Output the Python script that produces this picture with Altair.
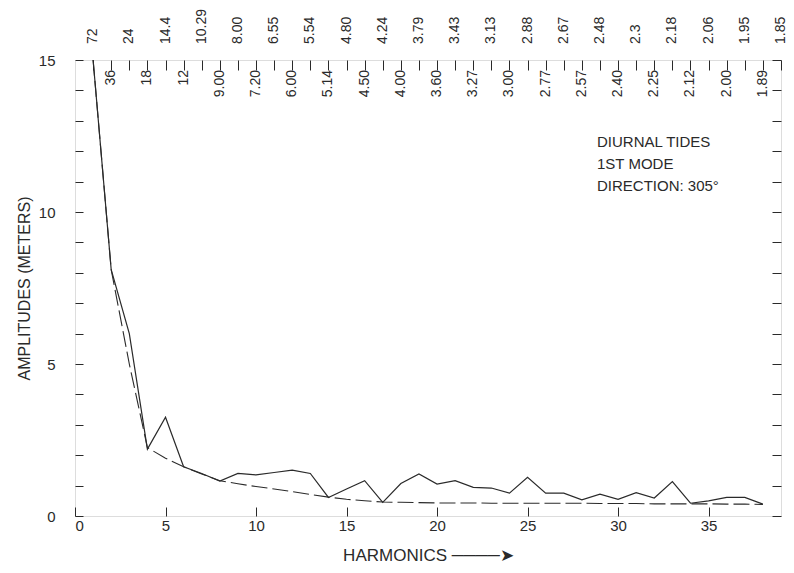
import altair as alt
import pandas as pd

# ---- data ----
harmonics = list(range(1, 39))
amplitude = [15.0, 8.1, 6.0, 2.2, 3.25, 1.62, 1.40, 1.15, 1.40, 1.35,
             1.43, 1.51, 1.40, 0.61, 0.89, 1.16, 0.45, 1.07, 1.38, 1.05,
             1.16, 0.94, 0.92, 0.75, 1.27, 0.75, 0.75, 0.53, 0.72, 0.55,
             0.77, 0.59, 1.13, 0.42, 0.50, 0.61, 0.61, 0.39]
smooth_fit = [15.0, 8.1, 5.0, 2.25, 1.9, 1.62, 1.38, 1.16, 1.06, 0.97,
              0.89, 0.80, 0.71, 0.62, 0.55, 0.50, 0.46, 0.45, 0.44, 0.43,
              0.43, 0.43, 0.42, 0.42, 0.42, 0.42, 0.42, 0.42, 0.41, 0.41,
              0.41, 0.40, 0.40, 0.40, 0.40, 0.39, 0.39, 0.38]

period_n = list(range(1, 40))
period_labels = ["72", "36", "24", "18", "14.4", "12", "10.29", "9.00", "8.00", "7.20",
                 "6.55", "6.00", "5.54", "5.14", "4.80", "4.50", "4.24", "4.00", "3.79", "3.60",
                 "3.43", "3.27", "3.13", "3.00", "2.88", "2.77", "2.67", "2.57", "2.48", "2.40",
                 "2.3", "2.25", "2.18", "2.12", "2.06", "2.00", "1.95", "1.89", "1.85"]

annotation = "DIURNAL TIDES\n1ST MODE\nDIRECTION: 305°"

FONT = "Liberation Sans"
INK = "#2a2a2a"
W, H = 706, 456

df = pd.DataFrame({"n": harmonics, "amp": amplitude, "fit": smooth_fit})
top_df = pd.DataFrame({"n": period_n, "label": period_labels})
top_upper = top_df[top_df["n"] % 2 == 1]
top_lower = top_df[top_df["n"] % 2 == 0]

xscale = alt.Scale(domain=[0, 39], nice=False, zero=False)
yscale = alt.Scale(domain=[0, 15], nice=False)

solid = alt.Chart(df).mark_line(color=INK, strokeWidth=1.2, clip=True).encode(
    x=alt.X("n:Q", scale=xscale,
            axis=alt.Axis(orient="bottom", values=list(range(0, 40, 5)), domain=False,
                          tickSize=alt.ExprRef(expr="-9"), labelPadding=11,
                          labelFontSize=15, labelFont=FONT, labelColor=INK,
                          tickColor=INK, grid=False,
                          title="HARMONICS ────➤", titleFont=FONT, titleFontSize=17,
                          titleFontWeight="normal", titleColor=INK, titlePadding=14)),
    y=alt.Y("amp:Q", scale=yscale,
            axis=alt.Axis(orient="left", values=list(range(0, 16)), domain=False,
                          tickSize=alt.ExprRef(expr="-8"), labelPadding=28,
                          labelExpr="datum.value % 5 == 0 ? datum.label : ''",
                          labelFontSize=15, labelFont=FONT, labelColor=INK,
                          tickColor=INK, grid=False,
                          title="AMPLITUDES (METERS)", titleFont=FONT, titleFontSize=16,
                          titleFontWeight="normal", titleColor=INK, titlePadding=6)),
)

dashed = alt.Chart(df).mark_line(color=INK, strokeWidth=1.1, strokeDash=[16, 5],
                                 clip=True).encode(
    x=alt.X("n:Q", scale=xscale,
            axis=alt.Axis(orient="top", values=period_n, domain=False,
                          tickSize=alt.ExprRef(expr="-10"), labels=False,
                          tickColor=INK, grid=False, title=None)),
    y=alt.Y("fit:Q", scale=yscale,
            axis=alt.Axis(orient="right", values=list(range(0, 16)), domain=False,
                          tickSize=alt.ExprRef(expr="-9"), labels=False,
                          tickColor=INK, grid=False, title=None)),
)

upper = alt.Chart(top_upper).mark_text(angle=270, align="left", baseline="middle",
                                       font=FONT, fontSize=14, color=INK).encode(
    x=alt.X("n:Q", scale=xscale, axis=None),
    y=alt.value(-16),
    text="label:N",
)

lower = alt.Chart(top_lower).mark_text(angle=270, align="right", baseline="middle",
                                       font=FONT, fontSize=14, color=INK).encode(
    x=alt.X("n:Q", scale=xscale, axis=None),
    y=alt.value(10),
    text="label:N",
)

note = alt.Chart(pd.DataFrame({"t": [annotation]})).mark_text(
    align="left", baseline="top", font=FONT, fontSize=15, color=INK,
    lineBreak="\n", lineHeight=22).encode(
    x=alt.value(522), y=alt.value(75), text="t:N")

chart = alt.layer(solid, dashed, upper, lower, note).resolve_axis(
    x="independent", y="independent"
).properties(
    width=W, height=H,
    autosize=alt.AutoSizeParams(type="none"),
    padding={"left": 75, "top": 60, "right": 13, "bottom": 57},
).configure_view(stroke=INK, strokeWidth=1.2).configure(background="white")

chart.save("out.html", embed_options={"renderer": "svg", "actions": False})
